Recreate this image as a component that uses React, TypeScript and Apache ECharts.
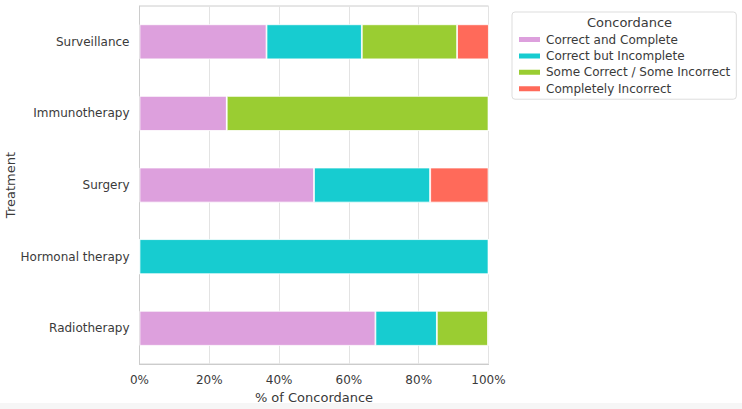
import React, { useEffect, useRef } from "react";
import * as echarts from "echarts";

// Treatments, listed bottom to top as the category axis draws them
const treatments = ["Radiotherapy", "Hormonal therapy", "Surgery", "Immunotherapy", "Surveillance"];

// Share of answers (%) in each concordance class, per treatment
const correctComplete = [67.6, 0, 50.0, 25.0, 36.4];
const correctIncomplete = [17.6, 100, 33.3, 0, 27.3];
const someCorrect = [14.7, 0, 0, 75.0, 27.3];
const completelyIncorrect = [0, 0, 16.7, 0, 9.1];

const seriesNames = [
  "Correct and Complete",
  "Correct but Incomplete",
  "Some Correct / Some Incorrect",
  "Completely Incorrect",
];
const seriesData = [correctComplete, correctIncomplete, someCorrect, completelyIncorrect];
const colors = ["#DDA0DD", "#17CCD0", "#9ACD32", "#FF6A5A"];

const xTicks = [0, 20, 40, 60, 80, 100];

const FONT = "DejaVu Sans";
const TEXT = "#3a3a3a";

export default function App() {
  const ref = useRef<HTMLDivElement>(null);

  useEffect(() => {
    if (!ref.current) return;
    const chart = echarts.init(ref.current, undefined, { renderer: "svg" });
    chart.setOption({
      animation: false,
      backgroundColor: "#ffffff",
      textStyle: { fontFamily: FONT },
      grid: {
        left: 139.5,
        right: 253.5,
        top: 6,
        bottom: 40,
        show: true,
        borderColor: "#cccccc",
        borderWidth: 1,
      },
      legend: {
        orient: "vertical",
        left: 512,
        top: 12,
        data: seriesNames,
        icon: "rect",
        itemWidth: 23,
        itemHeight: 7,
        itemGap: 3.4,
        padding: [21, 6, 4, 5],
        borderColor: "#dddddd",
        borderWidth: 1,
        borderRadius: 3,
        textStyle: { fontFamily: FONT, fontSize: 12, color: TEXT, lineHeight: 13 },
      },
      xAxis: {
        type: "value",
        min: xTicks[0],
        max: xTicks[xTicks.length - 1],
        interval: 20,
        name: "% of Concordance",
        nameLocation: "middle",
        nameGap: 26,
        nameTextStyle: { fontFamily: FONT, fontSize: 13, color: TEXT },
        axisLine: { show: true, lineStyle: { color: "#cccccc" } },
        axisTick: { show: false },
        axisLabel: {
          formatter: "{value}%",
          fontFamily: FONT,
          fontSize: 12,
          color: TEXT,
          margin: 10,
        },
        splitLine: { show: true, lineStyle: { color: "#e3e3e3" } },
      },
      yAxis: {
        type: "category",
        data: treatments,
        name: "Treatment",
        nameLocation: "middle",
        nameGap: 118,
        nameTextStyle: { fontFamily: FONT, fontSize: 13, color: TEXT },
        axisLine: { show: true, lineStyle: { color: "#cccccc" } },
        axisTick: { show: false },
        axisLabel: { fontFamily: FONT, fontSize: 12, color: TEXT, margin: 10 },
        splitLine: { show: false },
      },
      series: seriesNames.map((name, i) => ({
        name,
        type: "bar",
        stack: "total",
        barWidth: 35,
        data: seriesData[i],
        itemStyle: { color: colors[i], borderColor: "#ffffff", borderWidth: 0.8 },
        emphasis: { disabled: true },
      })),
      graphic: [
        {
          type: "text",
          left: 623 - 36,
          top: 16,
          style: {
            text: "Concordance",
            fontFamily: FONT,
            fontSize: 13,
            fill: TEXT,
          },
        },
        {
          type: "rect",
          left: 0,
          top: 403,
          silent: true,
          shape: { width: 742, height: 6 },
          style: { fill: "#f6f6f6" },
        },
      ],
    });
    return () => chart.dispose();
  }, []);

  return (
    <div
      ref={ref}
      style={{ position: "fixed", left: 0, top: 0, width: 742, height: 409 }}
    />
  );
}
